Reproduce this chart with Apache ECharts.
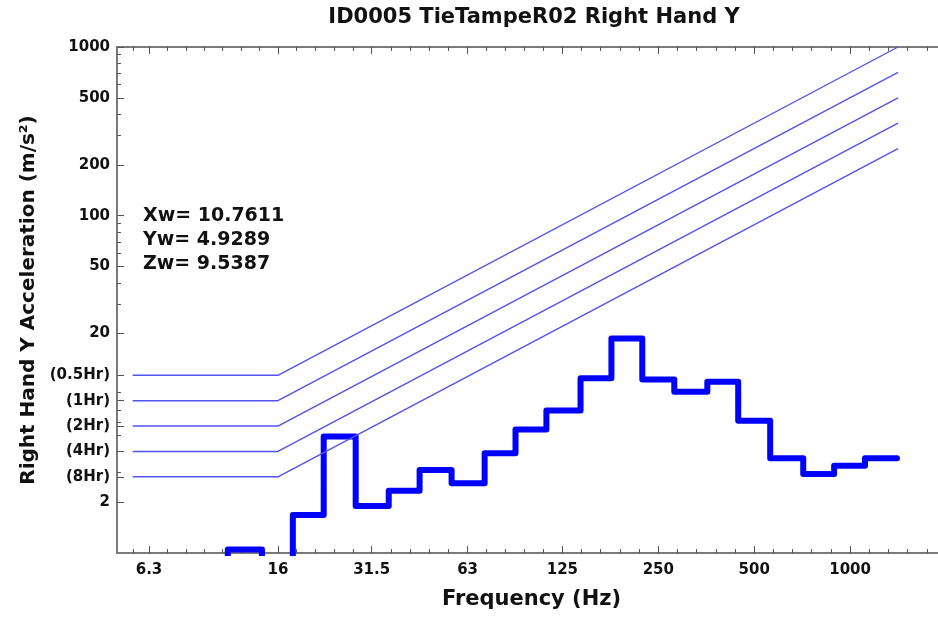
<!DOCTYPE html>
<html><head><meta charset="utf-8">
<script src="https://cdn.jsdelivr.net/npm/echarts@6/dist/echarts.min.js"></script>
<style>html,body{margin:0;padding:0;background:#fff}#c{width:938px;height:623px}</style>
</head><body><div id="c"></div>
<script>
// 1/3-octave band centres (Hz) and measured band acceleration (m/s^2)
const bandCenters = [10, 12.5, 16, 20, 25, 31.5, 40, 50, 63, 80, 100, 125, 160, 200, 250, 315, 400, 500, 630, 800, 1000, 1250];
const bandValues  = [0.7, 1.05, 0.7, 1.68, 4.9, 1.9, 2.34, 3.1, 2.59, 3.9, 5.4, 7.0, 10.85, 18.7, 10.7, 9.04, 10.36, 6.08, 3.64, 2.94, 3.29, 3.64];

// exposure limit curves
const limitNames     = ['(0.5Hr)', '(1Hr)', '(2Hr)', '(4Hr)', '(8Hr)'];
const limitLevels    = [11.31, 8, 5.66, 4, 2.83];
const limitEndValues = [1000, 707, 500, 354, 250];
const limitFreqs     = [5.6, 16, 1414];

// axis ticks
const xTickValues = [6.3, 16, 31.5, 63, 125, 250, 500, 1000];
const xTickLabels = ['6.3', '16', '31.5', '63', '125', '250', '500', '1000'];
const yTickValues = [2, 20, 50, 100, 200, 500, 1000];
const yTickLabels = ['2', '20', '50', '100', '200', '500', '1000'];

// weighted values text
const weightedNames  = ['Xw', 'Yw', 'Zw'];
const weightedValues = ['10.7611', '4.9289', '9.5387'];

const FONT = '"DejaVu Sans", sans-serif';
const AXIS_COLOR = '#7a7a7a';
const TICK_COLOR = '#555';

// derived: step line points at band edges
const sixth = Math.pow(2, 1 / 6);
const stepData = bandCenters.map((c, i) => [c / sixth, bandValues[i]]);
stepData.push([bandCenters[bandCenters.length - 1] * sixth, bandValues[bandValues.length - 1]]);

// derived tick sets
const yMajor = yTickValues.concat(limitLevels);
const yMajorLabels = yTickLabels.concat(limitNames);
const yMinor = [];
[1, 10, 100].forEach(d => { for (let k = 2; k <= 9; k++) { const v = d * k; if (yTickValues.indexOf(v) < 0) yMinor.push(v); } });
const xMinor = [];
const xb = [5].concat(xTickValues).concat([2000]);
for (let i = 0; i < xb.length - 1; i++) {
  const a = Math.log(xb[i]), b = Math.log(xb[i + 1]);
  const n = Math.max(1, Math.round((b - a) / Math.log(2) * 5));
  for (let k = 1; k < n; k++) xMinor.push(Math.exp(a + (b - a) * k / n));
}

function labelFor(v, vals, labs) {
  for (let i = 0; i < vals.length; i++) if (Math.abs(v - vals[i]) < 1e-6 * vals[i]) return labs[i];
  return '';
}

const XMIN = 5, XMAX = 2000, YMIN = 1, YMAX = 1000;

function xAx(pos, ticks, len, showLine, showLabel) {
  return {
    type: 'log', logBase: 10, min: XMIN, max: XMAX, position: pos,
    axisLine: { show: showLine, onZero: false, lineStyle: { color: AXIS_COLOR, width: 2 } },
    axisTick: { show: true, inside: true, length: len, customValues: ticks, lineStyle: { color: TICK_COLOR, width: 1 } },
    axisLabel: showLabel ? {
      show: true, customValues: xTickValues, margin: 10,
      formatter: v => labelFor(v, xTickValues, xTickLabels),
      color: '#111', fontFamily: FONT, fontWeight: 'bold', fontSize: 15
    } : { show: false },
    splitLine: { show: false }, minorTick: { show: false }, minorSplitLine: { show: false },
    name: showLabel ? 'Frequency (Hz)' : '',
    nameLocation: 'middle', nameGap: 36,
    nameTextStyle: { color: '#111', fontFamily: FONT, fontWeight: 'bold', fontSize: 21 }
  };
}
function yAx(pos, ticks, len, showLine, showLabel) {
  return {
    type: 'log', logBase: 10, min: YMIN, max: YMAX, position: pos,
    axisLine: { show: showLine, onZero: false, lineStyle: { color: AXIS_COLOR, width: 2 } },
    axisTick: { show: true, inside: true, length: len, customValues: ticks, lineStyle: { color: TICK_COLOR, width: 1 } },
    axisLabel: showLabel ? {
      show: true, customValues: yMajor, margin: 7,
      formatter: v => labelFor(v, yMajor, yMajorLabels),
      color: '#111', fontFamily: FONT, fontWeight: 'bold', fontSize: 15
    } : { show: false },
    splitLine: { show: false }, minorTick: { show: false }, minorSplitLine: { show: false },
    name: showLabel ? 'Right Hand Y Acceleration (m/s\u00b2)' : '',
    nameLocation: 'middle', nameGap: 77,
    nameTextStyle: { color: '#111', fontFamily: FONT, fontWeight: 'bold', fontSize: 20 }
  };
}

const series = [{
  type: 'line', name: 'Right Hand Y', data: stepData, step: 'end',
  xAxisIndex: 0, yAxisIndex: 0,
  showSymbol: false, symbol: 'none', silent: true, animation: false,
  lineStyle: { color: '#0000ff', width: 6, join: 'round', cap: 'round' },
  z: 3
}];
limitLevels.forEach((lvl, i) => {
  series.push({
    type: 'line', name: limitNames[i],
    data: [[limitFreqs[0], lvl], [limitFreqs[1], lvl], [limitFreqs[2], limitEndValues[i]]],
    xAxisIndex: 0, yAxisIndex: 0,
    showSymbol: false, symbol: 'none', silent: true, animation: false,
    lineStyle: { color: '#5252f0', width: 1.4 },
    z: 4
  });
});

const chart = echarts.init(document.getElementById('c'), null, { renderer: 'canvas' });
chart.setOption({
  backgroundColor: '#fff',
  animation: false,
  title: {
    text: 'ID0005 TieTampeR02 Right Hand Y',
    left: 534, top: 7, textAlign: 'center', padding: 0,
    textStyle: { color: '#111', fontFamily: FONT, fontWeight: 'bold', fontSize: 21 }
  },
  grid: { left: 117, top: 47, width: 829, height: 506, outerBoundsMode: 'none', containLabel: false },
  xAxis: [
    xAx('bottom', xTickValues, 7, true, true),
    xAx('bottom', xMinor, 4, false, false),
    xAx('top', xTickValues, 7, true, false),
    xAx('top', xMinor, 4, false, false)
  ],
  yAxis: [
    yAx('left', yMajor, 7, true, true),
    yAx('left', yMinor, 4, false, false),
    yAx('right', yMajor, 7, true, false),
    yAx('right', yMinor, 4, false, false)
  ],
  graphic: [{
    type: 'text', left: 143, top: 204,
    style: {
      text: weightedNames.map((n, i) => n + '= ' + weightedValues[i]).join('\n'),
      font: 'bold 19px ' + FONT, lineHeight: 24, fill: '#111'
    }
  }],
  series: series
});
</script>
</body></html>
